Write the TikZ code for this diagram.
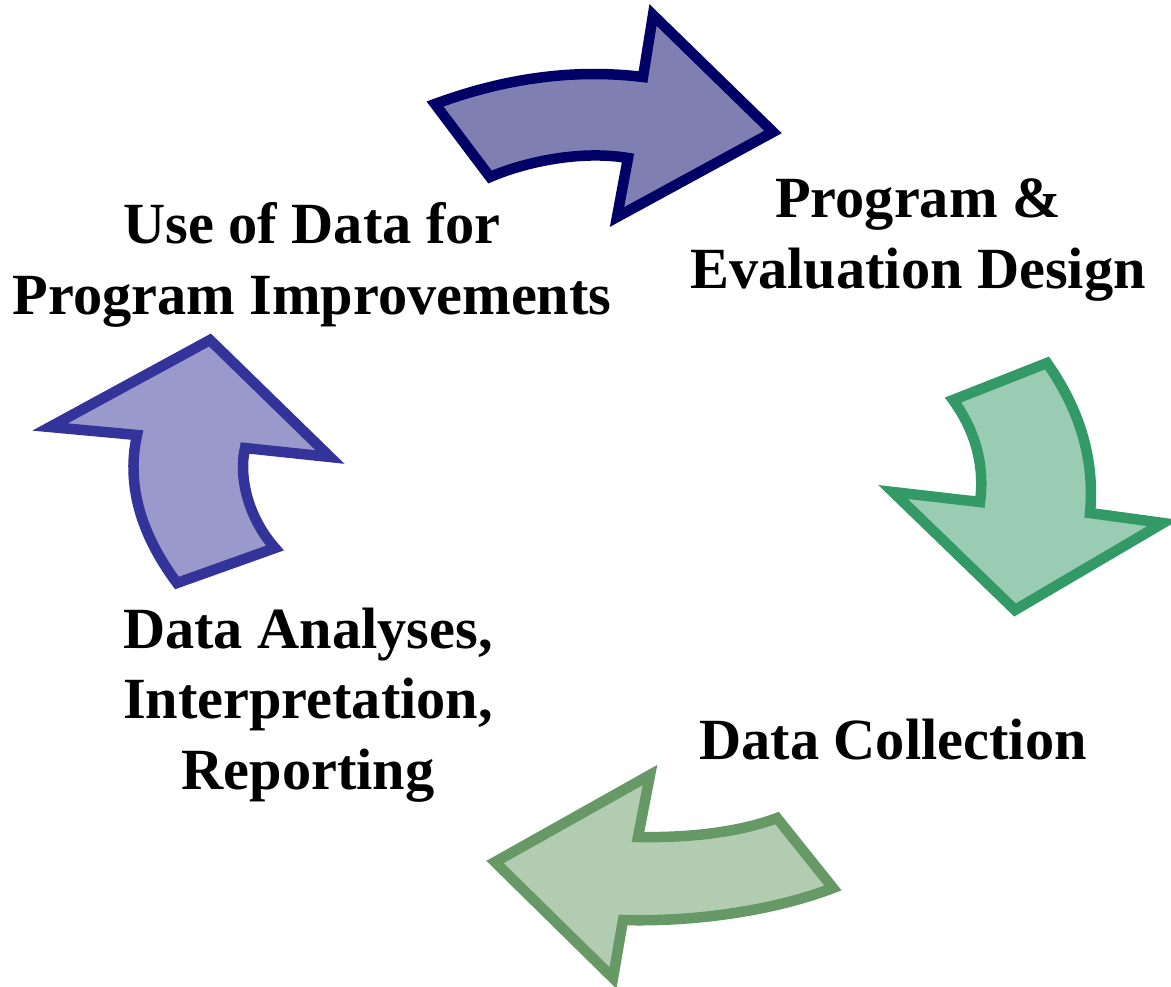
\documentclass[tikz,border=0pt]{standalone}
\usepackage{fontspec}
\setmainfont{Liberation Serif}
\usepackage{tikz}
\usetikzlibrary{positioning, calc}

\definecolor{navyline}{HTML}{000066}
\definecolor{navyfill}{HTML}{7F7FB2}
\definecolor{blueline}{HTML}{333399}
\definecolor{bluefill}{HTML}{9999CC}
\definecolor{tealline}{HTML}{339966}
\definecolor{tealfill}{HTML}{99CCB2}
\definecolor{sageline}{HTML}{669966}
\definecolor{sagefill}{HTML}{B2CCB2}

\begin{document}
\begin{tikzpicture}[
  x=0.1mm, y=-0.1mm,
  bigarrow/.style={line width=1.05mm, line join=miter},
  every node/.style={font=\fontsize{16.6}{20}\selectfont\bfseries, align=center}
]
  \useasboundingbox (0,0) rectangle (1171,986);

  % --- use -> design ---
  \filldraw[bigarrow, draw=navyline, fill=navyfill]
    (435,104) -- (490,177) .. controls (525,162) and (580,150) .. (628,158)
    -- (617,217) -- (773,132) -- (653,15) -- (643,77)
    .. controls (570,68) and (500,80) .. (435,104) -- cycle;

  % --- design -> collection ---
  \filldraw[bigarrow, draw=tealline, fill=tealfill]
    (953,400) -- (1047,363) .. controls (1080,410) and (1095,460) .. (1090,513)
    -- (1163,523) -- (1015,610) -- (893,492) -- (980,502)
    .. controls (985,465) and (975,430) .. (953,400) -- cycle;

  % --- collection -> analyses ---
  \filldraw[bigarrow, draw=sageline, fill=sagefill]
    (777,818) -- (833,888) .. controls (770,912) and (690,922) .. (623,920)
    -- (613,978) -- (495,862) -- (650,775) -- (638,837)
    .. controls (690,838) and (740,832) .. (777,818) -- cycle;

  % --- analyses -> use ---
  \filldraw[bigarrow, draw=blueline, fill=bluefill]
    (177,583) -- (275,548) .. controls (250,520) and (238,480) .. (245,448)
    -- (330,457) -- (210,340) -- (50,427) -- (137,435)
    .. controls (125,490) and (145,540) .. (177,583) -- cycle;

  % stages
  \node (design)  at (918,240) {Program \&\\Evaluation Design};
  \node (collect) at (893,740) {Data Collection};
  \node (analyse) at (308,705) {Data Analyses,\\Interpretation,\\Reporting};
  \node (use)     at (312,265) {Use of Data for\\Program Improvements};
\end{tikzpicture}
\end{document}
